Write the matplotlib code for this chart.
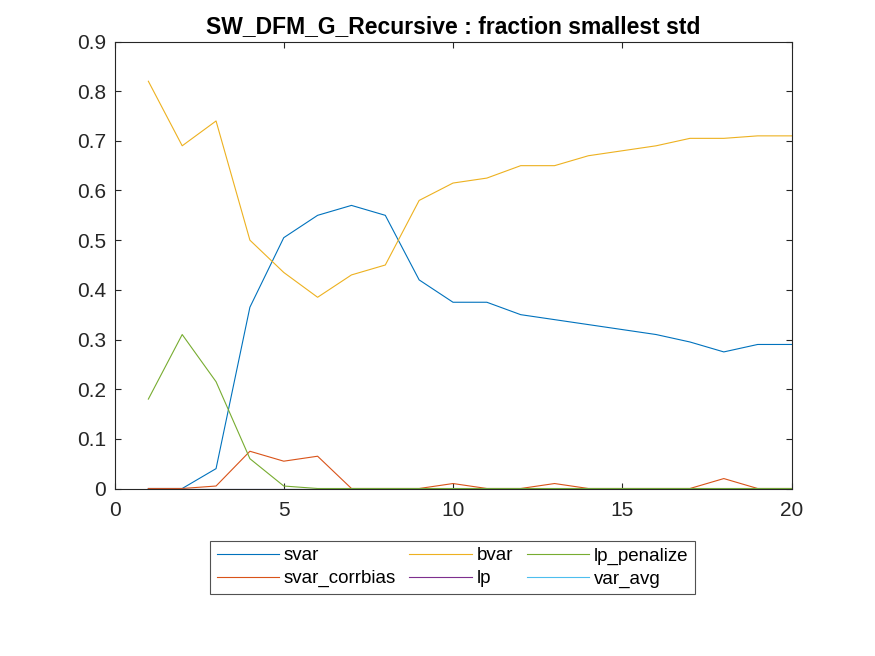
import numpy as np
import matplotlib
matplotlib.use("Agg")
import matplotlib.pyplot as plt

plt.rcParams["font.family"] = ["Liberation Sans", "DejaVu Sans"]

horizon = np.arange(1, 21)
svar = [0, 0, 0.04, 0.365, 0.505, 0.55, 0.57, 0.55, 0.42, 0.375,
        0.375, 0.35, 0.34, 0.33, 0.32, 0.31, 0.295, 0.275, 0.29, 0.29]
svar_corrbias = [0, 0, 0.005, 0.075, 0.055, 0.065, 0, 0, 0, 0.01,
                 0, 0, 0.01, 0, 0, 0, 0, 0.02, 0, 0]
bvar = [0.82, 0.69, 0.74, 0.50, 0.435, 0.385, 0.43, 0.45, 0.58, 0.615,
        0.625, 0.65, 0.65, 0.67, 0.68, 0.69, 0.705, 0.705, 0.71, 0.71]
lp = [0] * 20
lp_penalize = [0.18, 0.31, 0.215, 0.06, 0.005, 0, 0, 0, 0, 0,
               0, 0, 0, 0, 0, 0, 0, 0, 0, 0]
var_avg = [0] * 20

series = [
    ("svar", svar, "#0072BD"),
    ("svar_corrbias", svar_corrbias, "#D95319"),
    ("bvar", bvar, "#EDB120"),
    ("lp", lp, "#7E2F8E"),
    ("lp_penalize", lp_penalize, "#77AC30"),
    ("var_avg", var_avg, "#4DBEEE"),
]

fig = plt.figure(figsize=(8.75, 6.56), dpi=100)
ax = fig.add_axes([114.5 / 875, 1 - 488.5 / 656, 677 / 875, 447 / 656])

for name, vals, col in series:
    ax.plot(horizon, vals, color=col, linewidth=0.8, label=name)

ax.set_xlim(0, 20)
ax.set_ylim(0, 0.9)
ax.set_xticks([0, 5, 10, 15, 20])
ax.set_yticks(np.arange(0, 0.91, 0.1))
ax.set_yticklabels(["0"] + [f"{v:.1f}" for v in np.arange(0.1, 0.91, 0.1)])
ax.tick_params(direction="in", top=True, right=True, labelsize=15,
               length=4.5, width=0.8, colors="#262626")
ax.tick_params(axis="x", pad=9)
ax.tick_params(axis="y", pad=6)
for sp in ax.spines.values():
    sp.set_linewidth(0.8)
    sp.set_color("#262626")

ax.set_title("SW_DFM_G_Recursive : fraction smallest std", fontsize=16.5,
             fontweight="bold", pad=6)

leg = fig.legend(loc="center", bbox_to_anchor=(452.5 / 875, 1 - 567.5 / 656),
                 ncol=3, fontsize=13.5, frameon=True, fancybox=False,
                 handlelength=3.35, handletextpad=0.25, columnspacing=0.7,
                 labelspacing=0.3, borderpad=0.35, borderaxespad=0)
leg.get_frame().set_edgecolor("#262626")
leg.get_frame().set_linewidth(0.8)

fig.savefig("out.png", dpi=100)
